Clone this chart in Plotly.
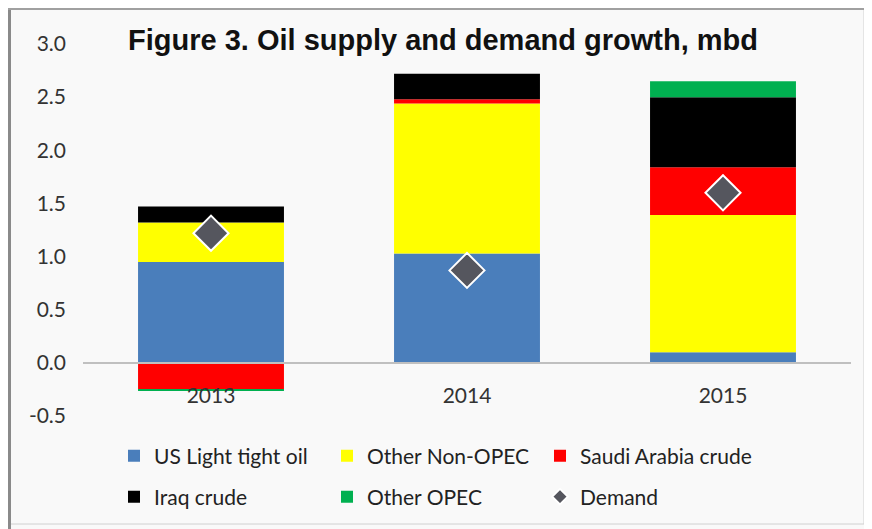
import plotly.graph_objects as go

years = ["2013", "2014", "2015"]
us_lto = [0.95, 1.03, 0.10]
other_non_opec = [0.37, 1.41, 1.29]
saudi = [-0.25, 0.04, 0.45]
iraq = [0.15, 0.24, 0.66]
other_opec = [-0.01, 0.0, 0.15]
demand = [1.22, 0.87, 1.60]

y_ticks = [-0.5, 0.0, 0.5, 1.0, 1.5, 2.0, 2.5, 3.0]
y_tick_text = ["-0.5", "0.0", "0.5", "1.0", "1.5", "2.0", "2.5", "3.0"]

# page body has an 8px margin; work in window coordinates and convert
OFF = 8
W, H = 872 - OFF, 529 - OFF
PL, PR, PT, PB = 83, 851, 44, 416  # plot area in window coords
L, R, T, B = PL - OFF, W - (PR - OFF), PT - OFF, H - (PB - OFF)
PW, PH = W - L - R, H - T - B

def px(x):
    return (x - OFF - L) / PW

def py(y):
    return (H - B - (y - OFF)) / PH

FONT = "Lato"

fig = go.Figure()
series = [
    ("US Light tight oil", us_lto, "#4a7ebb", "legend"),
    ("Other Non-OPEC", other_non_opec, "#ffff00", "legend"),
    ("Saudi Arabia crude", saudi, "#ff0000", "legend"),
    ("Iraq crude", iraq, "#000000", "legend2"),
    ("Other OPEC", other_opec, "#00b050", "legend2"),
]
for name, vals, col, lg in series:
    fig.add_trace(go.Bar(x=years, y=vals, name=name, marker=dict(color=col, line=dict(width=0)),
                         legend=lg))

fig.add_trace(go.Scatter(x=years, y=demand, name="Demand", mode="markers", legend="legend2",
                         marker=dict(symbol="diamond", size=27, color="#55565e",
                                     line=dict(color="white", width=2))))

fig.update_layout(
    width=W, height=H,
    margin=dict(l=L, r=R, t=T, b=B, autoexpand=False),
    barmode="relative",
    bargap=0.43,
    paper_bgcolor="#f9f9f9",
    plot_bgcolor="#f9f9f9",
    font=dict(family=FONT, size=19, color="#333333"),
    showlegend=True,
    xaxis=dict(
        anchor="free", position=0.5 / 3.5,
        showline=True, linecolor="#c0c0c0", linewidth=1.5,
        ticks="", ticklabelstandoff=14, automargin=False,
        tickfont=dict(family=FONT, size=21, color="#333333"),
        showgrid=False, zeroline=False,
    ),
    yaxis=dict(
        range=[-0.5, 3.0], automargin=False,
        tickvals=y_ticks, ticktext=y_tick_text,
        showgrid=False, zeroline=False, showline=False,
        ticks="", ticklabelstandoff=16,
        tickfont=dict(family=FONT, size=21, color="#333333"),
    ),
    legend=dict(
        orientation="h", xref="container", yref="container",
        x=(114 - OFF) / W, y=1 - (456 - OFF) / H, xanchor="left", yanchor="middle",
        entrywidth=168, entrywidthmode="pixels",
        font=dict(family=FONT, size=21, color="#222222"),
        bgcolor="rgba(0,0,0,0)", itemsizing="constant",
    ),
    legend2=dict(
        orientation="h", xref="container", yref="container",
        x=(114 - OFF) / W, y=1 - (497 - OFF) / H, xanchor="left", yanchor="middle",
        entrywidth=168, entrywidthmode="pixels",
        font=dict(family=FONT, size=21, color="#222222"),
        bgcolor="rgba(0,0,0,0)", itemsizing="constant",
    ),
    annotations=[dict(
        text="<b>Figure 3. Oil supply and demand growth, mbd</b>",
        xref="paper", yref="paper", x=px(126), y=py(40),
        xanchor="left", yanchor="middle", showarrow=False,
        font=dict(family="Liberation Sans, Arial", size=29, color="#111111"),
    )],
    shapes=[
        dict(type="rect", xref="paper", yref="paper", x0=px(9), x1=px(864), y0=py(524), y1=py(9),
             line=dict(color="#d0d0d0", width=1), layer="below"),
        dict(type="line", xref="paper", yref="paper", x0=px(9.5), x1=px(9.5), y0=py(529), y1=py(8),
             line=dict(color="#8a8a8a", width=3)),
        dict(type="line", xref="paper", yref="paper", x0=px(8), x1=px(866), y0=py(9), y1=py(9),
             line=dict(color="#a0a0a0", width=2)),
    ],
)

fig.write_html("out.html")
